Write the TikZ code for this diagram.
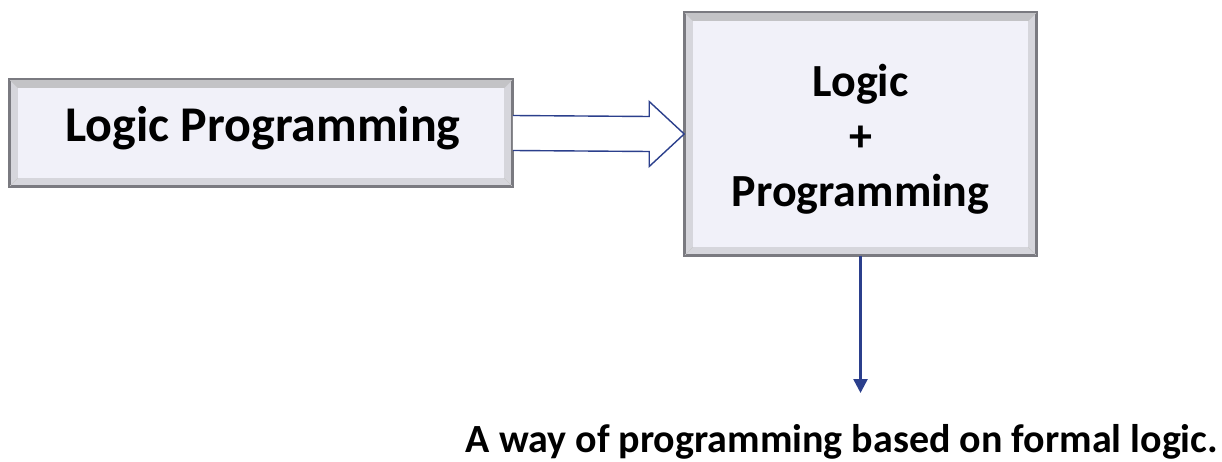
\documentclass[tikz,border=0pt]{standalone}
\usepackage{fontspec}
\setmainfont{Carlito}
\usetikzlibrary{arrows.meta,calc}
\definecolor{boxface}{HTML}{F1F1F9}
\definecolor{boxedge}{HTML}{D6D6DC}
\definecolor{boxline}{HTML}{7A7A80}
\definecolor{arrowblue}{HTML}{2B3F8C}
\tikzset{
  bevelbox/.style={draw=boxline, line width=1.6pt, fill=boxedge, inner sep=0pt,
    font=\bfseries, align=center},
  facebox/.style={fill=boxface, inner sep=0pt}
}
\begin{document}
\begin{tikzpicture}[x=1pt,y=1pt]
\useasboundingbox (0,0) rectangle (1222,-462);
% boxes
\node[bevelbox, minimum width=502pt, minimum height=106pt] (lp) at (261,-133) {};
\node[facebox, minimum width=486pt, minimum height=90pt] (lpface) at (lp.center) {};
\node[bevelbox, minimum width=351pt, minimum height=242pt] (lpp) at (860.5,-134) {};
\node[facebox, minimum width=335pt, minimum height=226pt] (lppface) at (lpp.center) {};
\foreach \b/\f in {lp/lpface,lpp/lppface}{
  \draw[boxline!40, line width=0.6pt] (\b.north west) -- (\f.north west)
    (\b.north east) -- (\f.north east) (\b.south west) -- (\f.south west)
    (\b.south east) -- (\f.south east);
  \fill[boxline!45] (\b.north west) -- (\b.north east) -- (\f.north east) -- (\f.north west) -- cycle;
  \draw[boxline, line width=1.6pt] (\b.north west) rectangle (\b.south east);
}
\node[font=\bfseries\fontsize{50}{56}\selectfont, anchor=base, inner sep=0pt] (lptext) at ($(lp.center)+(2,-9)$) {Logic Programming};
\node[font=\bfseries\fontsize{46}{55}\selectfont, align=center] (lpptext) at ($(lpp.center)+(0,-5)$) {Logic\\+\\Programming};
% arrows
\draw[arrowblue, line width=1.4pt, fill=white, line join=miter]
  ($(lp.east)+(0,17.5)$) -- ($(lpp.west)+(-35,17.5)$) -- ($(lpp.west)+(-35,32.5)$)
  -- (lpp.west) -- ($(lpp.west)+(-35,-32.5)$) -- ($(lpp.west)+(-35,-17.5)$)
  -- ($(lp.east)+(0,-17.5)$);
\coordinate (downend) at (860.5,-393);
\draw[arrowblue, line width=2.6pt, -{Triangle[length=14pt,width=14pt]}] (lpp.south) -- (downend);
\node[font=\bfseries\fontsize{40}{46}\selectfont, anchor=base, inner sep=0pt] (desc) at (842,-452)
  {A way of programming based on formal logic.};
\end{tikzpicture}
\end{document}
